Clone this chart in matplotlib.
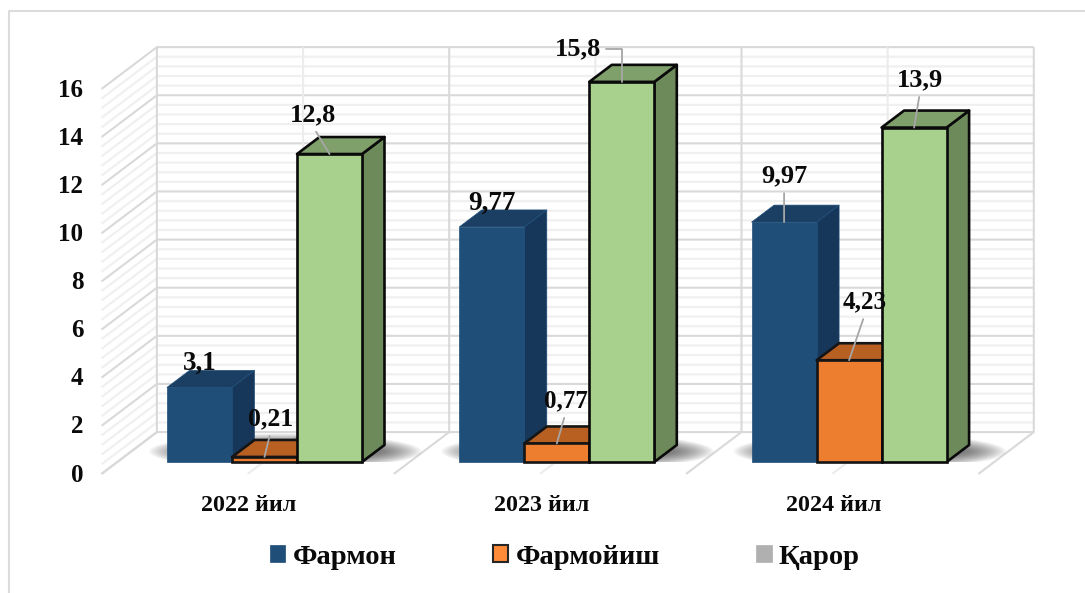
import matplotlib
matplotlib.use('Agg')
import matplotlib.pyplot as plt
from matplotlib.lines import Line2D
from matplotlib.patches import Ellipse, Patch, Rectangle

# Data
years = ['2022 йил', '2023 йил', '2024 йил']
series_names = ['Фармон', 'Фармойиш', 'Қарор']
farmon = [3.1, 9.77, 9.97]
farmoyish = [0.21, 0.77, 4.23]
qaror = [12.8, 15.8, 13.9]
y_ticks = [0, 2, 4, 6, 8, 10, 12, 14, 16]

farmon_labels = ['3,1', '9,77', '9,97']
farmoyish_labels = ['0,21', '0,77', '4,23']
qaror_labels = ['12,8', '15,8', '13,9']

# Scale of the front plane, pixels per unit
PX_X = 292.3
PX_Y = 24.06
X0 = 117.3
Y0 = 462
W, H = 1085, 593

# Fake 3D: one unit of depth shifts this much in data units
DX = 22.5 / PX_X
DY = 17 / PX_Y
BACK = 1.76
FRONT = -0.7

BAR_W = 65 / PX_X
BAR_START = 0.17

plt.rcParams['font.family'] = ['Liberation Serif', 'DejaVu Serif']
plt.rcParams['font.weight'] = 'bold'

fig = plt.figure(figsize=(W / 100, H / 100), dpi=100, facecolor='white')
ax = fig.add_axes([0, 0, 1, 1])
ax.set_xlim(-X0 / PX_X, (W - X0) / PX_X)
ax.set_ylim(-(H - Y0) / PX_Y, Y0 / PX_Y)
ax.axis('off')

# Outer chart border, only top and left are in frame
fig.add_artist(Line2D([9 / W, 9 / W, 1], [0, 1 - 11 / H, 1 - 11 / H], transform=fig.transFigure,
                      color='#dcdcdc', linewidth=1.5))


def shift(x, v, d):
    return x + d * DX, v + d * DY


# Gridlines on back and side walls, minor first
MAJOR = '#d9d9d9'
MINOR = '#f0f0f0'
top = y_ticks[-1]
n_minor = int(top / 0.4)
for i in range(n_minor + 1):
    v = i * 0.4
    is_major = i % 5 == 0
    col = MAJOR if is_major else MINOR
    lw = 1.5 if is_major else 1.6
    z = 2 if is_major else 1
    x1, y1 = shift(0, v, FRONT)
    x2, y2 = shift(0, v, BACK)
    x3, y3 = shift(len(years), v, BACK)
    ax.plot([x1, x2, x3], [y1, y2, y3], color=col, lw=lw, zorder=z, solid_capstyle='butt')

# Verticals on the back wall and lines on the floor
for i in range(2 * len(years) + 1):
    x = i / 2
    col = MAJOR if i % 2 == 0 else '#ececec'
    x1, y1 = shift(x, 0, FRONT)
    x2, y2 = shift(x, 0, BACK)
    x3, y3 = shift(x, top, BACK)
    ax.plot([x1, x2, x3], [y1, y2, y3], color=col, lw=1.5, zorder=2, solid_capstyle='butt')

# Soft shadows on the floor, stacked ellipses cut off at the bar bottoms
floor_clip = Rectangle((-1, 0), 6, 5, transform=ax.transData)
for i in range(len(years)):
    cx, cy = shift(i + 0.5, 0, 0.62)
    for k in range(16):
        t = k / 15
        e = Ellipse((cx + 8 / PX_X, cy), (2 * 98 + 2 * 38 * (1 - t)) / PX_X, (2 * 8 + 2 * 10 * (1 - t)) / PX_Y,
                    facecolor='#333333', edgecolor='none', alpha=0.055, zorder=3)
        ax.add_patch(e)
        e.set_clip_path(floor_clip)

bar_styles = [
    {'front': '#1F4E79', 'top': '#1A3F63', 'side': '#17375A', 'edge': '#1F4E79', 'lw': 0.5},
    {'front': '#ED7D2F', 'top': '#B85F22', 'side': '#B85F22', 'edge': '#151515', 'lw': 1.9},
    {'front': '#A9D18E', 'top': '#7F9F6B', 'side': '#6C8A5A', 'edge': '#0A0A0A', 'lw': 1.9},
]

z = 5
for s, values in enumerate([farmon, farmoyish, qaror]):
    st = bar_styles[s]
    for i, val in enumerate(values):
        left = i + BAR_START + s * BAR_W
        right = left + BAR_W
        top_face = [shift(left, val, 0), shift(right, val, 0), shift(right, val, 1), shift(left, val, 1)]
        side_face = [shift(right, 0, 0), shift(right, 0, 1), shift(right, val, 1), shift(right, val, 0)]
        ax.fill(*zip(*side_face), facecolor=st['side'], edgecolor=st['edge'], lw=st['lw'],
                zorder=z, joinstyle='round')
        ax.fill(*zip(*top_face), facecolor=st['top'], edgecolor=st['edge'], lw=st['lw'],
                zorder=z, joinstyle='round')
        ax.bar(left, val, BAR_W, align='edge', color=st['front'], edgecolor=st['edge'],
               linewidth=st['lw'], zorder=z + 0.5)
    z += 1

# Data labels: offset from top centre of each bar in pixels, size, leader or not
LEADER = '#a6a6a6'
label_sets = [
    (farmon, farmon_labels, 0, [(0.5, 24), (0, 24), (0, 46)], [19.5, 19.5, 19], [None, None, (0.5, 0)]),
    (farmoyish, farmoyish_labels, 1, [(6.5, 38), (9, 42.5), (16, 58)], [18.5, 18, 18], [(0.5, 0), (0.5, 0), (0.5, 0)]),
    (qaror, qaror_labels, 2, [(-16.5, 39), (-44, 33), (6, 47.6)], [19, 19, 19], [(0.5, 0), (1, 0.5), (0.5, 0)]),
]
for values, texts, s, offs, sizes, rels in label_sets:
    for i, val in enumerate(values):
        xc = i + BAR_START + (s + 0.5) * BAR_W
        off = (offs[i][0] * 0.72, offs[i][1] * 0.72)
        arrow = None
        if rels[i] is not None:
            arrow = dict(arrowstyle='-', color=LEADER, lw=1.3, relpos=rels[i], shrinkA=2, shrinkB=0)
            if rels[i] == (1, 0.5):
                arrow['connectionstyle'] = 'angle,angleA=0,angleB=90,rad=0'
        ax.annotate(texts[i], xy=(xc, val), xytext=off, textcoords='offset points',
                    ha='center', va='center', fontsize=sizes[i], fontweight='bold',
                    color='#0a0a0a', arrowprops=arrow, zorder=12)

# Value axis labels
for v in y_ticks:
    x, y = shift(0, v, FRONT)
    ax.annotate(str(v), xy=(x, y), xytext=(-13, -0.8), textcoords='offset points', ha='right',
                va='center', fontsize=18, fontweight='bold', color='#0a0a0a')

# Category labels
for i, name in enumerate(years):
    x, y = shift(i + 0.5, 0, FRONT)
    ax.annotate(name, xy=(x, y), xytext=(1, -22.5), textcoords='offset points', ha='center',
                va='center', fontsize=17.3, fontweight='bold', color='#0a0a0a')

# Legend
handles = [
    Patch(facecolor='#1F4E79', edgecolor='#1F4E79', lw=0.5),
    Patch(facecolor='#FF8A38', edgecolor='#262626', lw=1.5),
    Patch(facecolor='#B0B0B0', edgecolor='#B0B0B0', lw=0.5),
]
fig.legend(handles, series_names, ncol=3, loc='center', bbox_to_anchor=(565 / W, 1 - 557 / H),
           frameon=False, fontsize=20.5, handlelength=0.53, handleheight=0.53, handletextpad=0.25,
           columnspacing=3.4, borderpad=0, labelcolor='#0a0a0a')

fig.savefig('out.png', dpi=100)
